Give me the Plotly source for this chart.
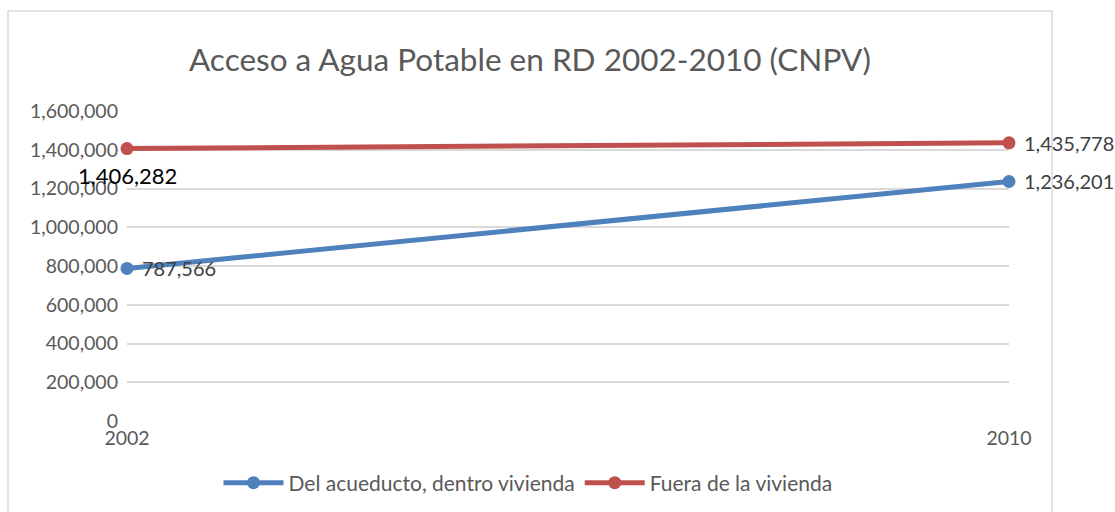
import plotly.graph_objects as go

years = [2002, 2010]
dentro = [787566, 1236201]
fuera = [1406282, 1435778]
series_names = ["Del acueducto, dentro vivienda", "Fuera de la vivienda"]
title_text = "Acceso a Agua Potable en RD 2002-2010 (CNPV)"
y_ticks = [0, 200000, 400000, 600000, 800000, 1000000, 1200000, 1400000, 1600000]

BLUE = "#4F81BD"
RED = "#C0504D"
GREY = "#595959"
FONT = "Lato"

# body margin is removed by the post script, so screen pixels == figure pixels
OFF = 0
W, H = 1115, 512
L = 127 - OFF
T = 111 - OFF
R = W - (1009 - OFF)
B = H - (421 - OFF)
pw, ph = W - L - R, H - T - B

def px_x(x):
    return (x - OFF - L) / pw

def px_y(y):
    return (H - B - (y - OFF)) / ph

fig = go.Figure()
fig.add_trace(go.Scatter(
    x=years, y=dentro, name=series_names[0], mode="lines+markers",
    line=dict(color=BLUE, width=5), marker=dict(color=BLUE, size=13), cliponaxis=False,
))
fig.add_trace(go.Scatter(
    x=years, y=fuera, name=series_names[1], mode="lines+markers",
    line=dict(color=RED, width=5), marker=dict(color=RED, size=13), cliponaxis=False,
))

# data labels
label_font = dict(family=FONT, size=20, color="#404040")
for xv, yv in zip(years, dentro):
    fig.add_annotation(x=xv, y=yv, text=f"{yv:,}", showarrow=False, xanchor="left",
                       yanchor="middle", xshift=13, font=label_font)
fig.add_annotation(x=years[0], y=fuera[0], text=f"{fuera[0]:,}", showarrow=False,
                   xanchor="center", yanchor="middle", yshift=-27,
                   font=dict(family=FONT, size=22, color="#000000"))
fig.add_annotation(x=years[1], y=fuera[1], text=f"{fuera[1]:,}", showarrow=False,
                   xanchor="left", yanchor="middle", xshift=13, font=label_font)

fig.add_shape(type="rect", xref="paper", yref="paper",
              x0=px_x(8), x1=px_x(1052), y0=px_y(540), y1=px_y(11),
              line=dict(color="#d9d9d9", width=1.5), fillcolor="rgba(0,0,0,0)", layer="below")

fig.update_layout(
    width=W, height=H,
    margin=dict(l=L, r=R, t=T, b=B, autoexpand=False),
    paper_bgcolor="white", plot_bgcolor="white",
    font=dict(family=FONT, color=GREY, size=19),
    title=dict(text=title_text, x=(530 - OFF) / W, xanchor="center", y=1 - (60 - OFF) / H,
               yanchor="middle", font=dict(family=FONT, size=31.5, color=GREY)),
    showlegend=True,
    legend=dict(orientation="h", x=px_x(528), xanchor="center", y=px_y(483), yanchor="middle",
                font=dict(family=FONT, size=21, color=GREY), itemwidth=60, traceorder="normal"),
    xaxis=dict(range=[2002, 2010], tickvals=years, ticktext=[str(y) for y in years],
               showgrid=False, zeroline=False, showline=False, ticks="", ticklabelstandoff=3,
               tickfont=dict(family=FONT, size=19.5, color=GREY)),
    yaxis=dict(range=[0, 1600000], tickvals=y_ticks, ticktext=[f"{v:,}" for v in y_ticks],
               showgrid=True, gridcolor="#d9d9d9", gridwidth=1.5, zeroline=False,
               showline=False, ticks="", ticklabelstandoff=8,
               tickfont=dict(family=FONT, size=19.5, color=GREY)),
)

fig.write_html("out.html", config={"displayModeBar": False},
               post_script="document.body.style.margin='0';document.body.style.overflow='hidden';")
